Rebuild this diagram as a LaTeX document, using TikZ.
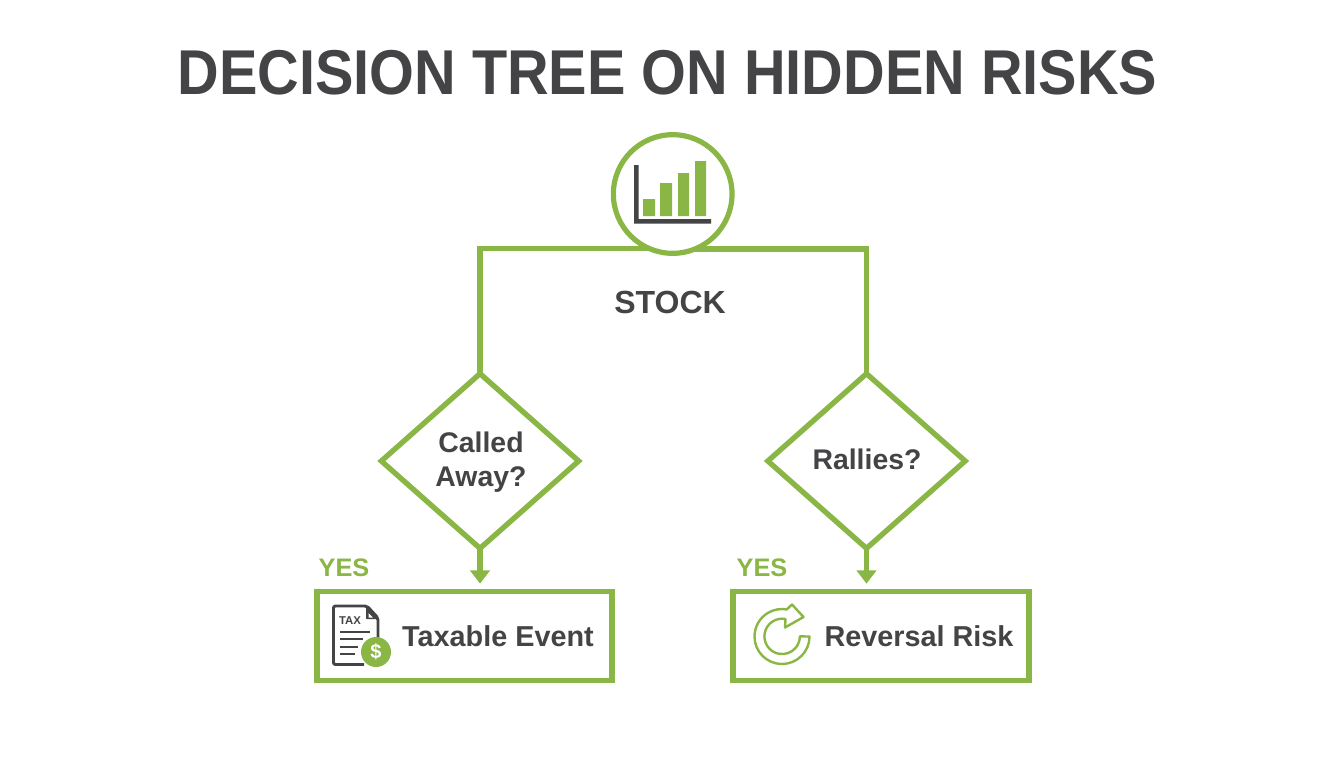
\documentclass[tikz,border=0pt]{standalone}
\usepackage{fontspec}
\setmainfont{Liberation Sans}
\usetikzlibrary{shapes.geometric,arrows.meta}
\definecolor{leaf}{HTML}{8AB645}
\definecolor{ink}{HTML}{444446}
\tikzset{
  flow/.style={draw=leaf,line width=3.9pt},
  dia/.style={shape=diamond,draw=leaf,line width=4pt,minimum width=148pt,minimum height=131pt,inner sep=0pt,outer sep=0pt,fill=white},
  outcome/.style={shape=rectangle,draw=leaf,line width=4.1pt,inner sep=0pt,outer sep=0pt,fill=white},
  lab/.style={text=ink,font=\bfseries\fontsize{21.6}{25}\selectfont,inner sep=0pt},
  dialab/.style={text=ink,align=center,inner sep=0pt,font=\bfseries\fontsize{21.3}{25.5}\selectfont},
  yeslab/.style={text=leaf,font=\bfseries\fontsize{19}{25}\selectfont,inner sep=0pt},
  ico/.style={line width=1.8pt,draw=leaf,fill=white}
}
\begin{document}
\begin{tikzpicture}[x=0.75pt,y=-0.75pt]
\useasboundingbox (0,0) rectangle (1344,768);
\node[text=ink,font=\bfseries\fontsize{47.5}{50}\selectfont,inner sep=0pt] (title) at (667.5,73) {\scalebox{0.91}[1]{DECISION TREE ON HIDDEN RISKS}};
\node[shape=circle,draw=leaf,line width=3.9pt,fill=white,minimum size=89pt,inner sep=0pt,outer sep=0pt] (stock) at (672.7,194) {};
\node[dia] (d1) at (480,461) {};
\node[dia] (d2) at (866.5,461) {};
\node[outcome,minimum width=221pt,minimum height=66.5pt] (b1) at (464.5,636) {};
\node[outcome,minimum width=222pt,minimum height=66.5pt] (b2) at (881,636) {};
\draw[flow] (d1.north) |- (stock.247.6);
\draw[flow] (d2.north) |- (stock.292.4);
\draw[flow,-{Triangle[length=10pt,width=14.5pt]},shorten >=6pt] (d1.south) -- (d1.south |- b1.north);
\draw[flow,-{Triangle[length=10pt,width=14.5pt]},shorten >=6pt] (d2.south) -- (d2.south |- b2.north);
\node[dialab] (q1) at (481,462) {Called\\Away?};
\node[dialab] (q2) at (867,459) {Rallies?};
\node[text=ink,font=\bfseries\fontsize{24}{28}\selectfont,inner sep=0pt] (st) at (670,302) {STOCK};
\node[yeslab] (y1) at (344,568) {YES};
\node[yeslab] (y2) at (762,568) {YES};
\node[lab] (t1) at (498,636) {Taxable Event};
\node[lab] (t2) at (919,636) {Reversal Risk};
% chart icon
\fill[ink] (634,165) rectangle (638.5,223.5) (634,219) rectangle (711,223.5);
\fill[leaf] (643,199) rectangle (655,216) (660,183) rectangle (672,216) (678,173) rectangle (689,216) (695,161) rectangle (706,216);
% tax icon
\draw[ink,line width=2.2pt,rounded corners=1.5pt] (378,640) -- (378,618) -- (367,606) -- (333.5,606) -- (333.5,664.5) -- (364,664.5);
\fill[ink,rounded corners=0.5pt] (366,606) -- (378.5,619) -- (366,619) -- cycle;
\fill[white] (368.5,613) -- (373,617.5) -- (368.5,617.5) -- cycle;
\node[text=ink,font=\bfseries\fontsize{8.5}{10}\selectfont,inner sep=0pt] (taxw) at (350,620.5) {TAX};
\draw[ink,line width=2.1pt] (340,632) -- (370,632) (340,639) -- (363,639) (340,647) -- (358,647) (340,654) -- (355,654);
\node[shape=circle,fill=leaf,minimum size=22.5pt,inner sep=0pt,text=white,font=\bfseries\fontsize{15}{16}\selectfont] (dollar) at (376,652) {\$};
% reversal icon
\draw[ico,line join=round] (809.5,636.5) arc[start angle=0,end angle=280,radius=27.5] -- (792,604.5) -- (803.5,617) -- (785,627.5) -- (785.5,619) arc[start angle=281,end angle=0,radius=17.7] -- cycle;
\end{tikzpicture}
\end{document}
